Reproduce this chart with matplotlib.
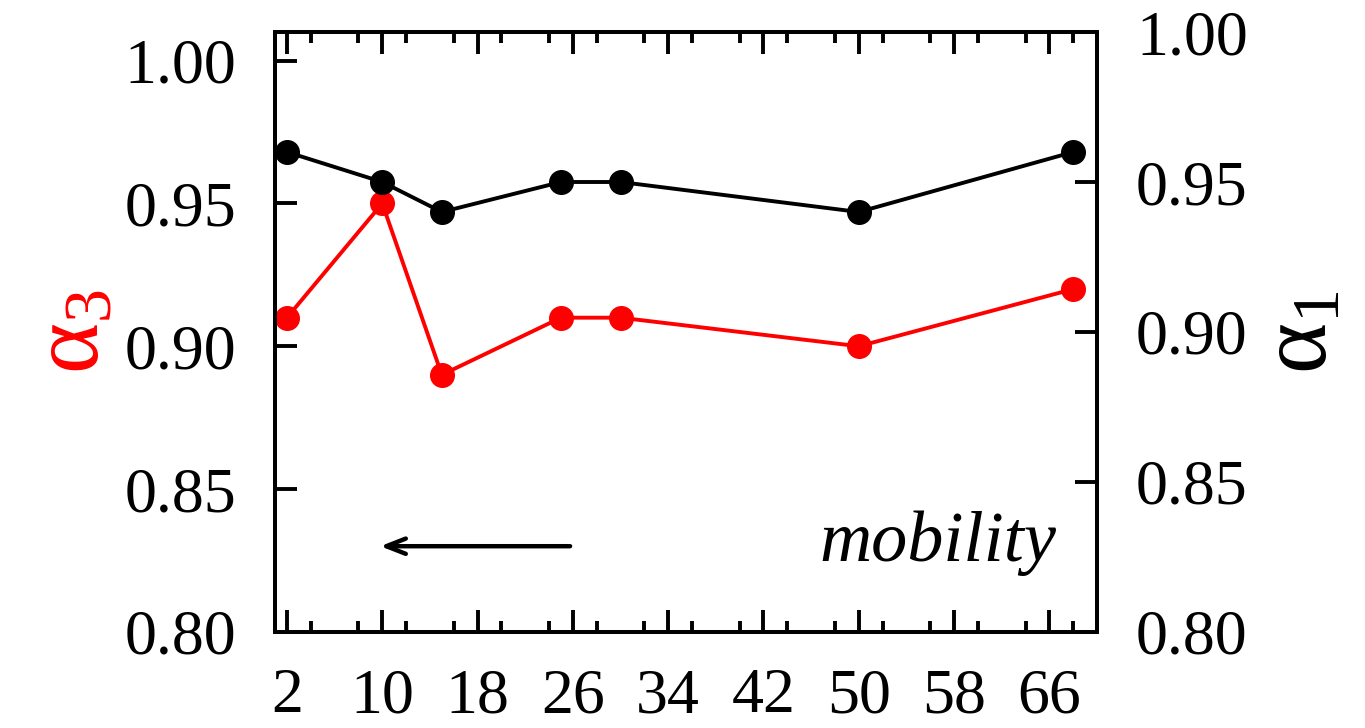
import numpy as np
import matplotlib.pyplot as plt
from matplotlib.ticker import MultipleLocator

plt.rcParams['font.family'] = ['Liberation Serif', 'DejaVu Serif']
plt.rcParams['mathtext.fontset'] = 'custom'
plt.rcParams['mathtext.rm'] = 'Liberation Serif'
plt.rcParams['mathtext.it'] = 'Liberation Serif:italic'

# data
x = [2, 10, 15, 25, 30, 50, 68]
alpha3 = [0.91, 0.95, 0.89, 0.91, 0.91, 0.90, 0.92]   # left axis, red
alpha1 = [0.96, 0.95, 0.94, 0.95, 0.95, 0.94, 0.96]   # right axis, black
xticks = [2, 10, 18, 26, 34, 42, 50, 58, 66]
yticks = [0.80, 0.85, 0.90, 0.95, 1.00]

fig = plt.figure(figsize=(13.65, 7.28), dpi=100)
ax = fig.add_axes([0.2015, 0.132, 0.6022, 0.824])
ax2 = ax.twinx()

ax.plot(x, alpha3, '-o', color='#ff0000', lw=2.8, ms=17, zorder=3)
ax2.plot(x, alpha1, '-o', color='black', lw=2.8, ms=17, zorder=3)

ax.set_xlim(1, 70)
ax.set_ylim(0.80, 1.01)
ax2.set_ylim(0.80, 1.00)

ax.set_xticks(xticks)
ax.xaxis.set_minor_locator(MultipleLocator(4))
ax.set_yticks(yticks)
ax.set_yticklabels(['%.2f' % v for v in yticks])
ax2.set_yticks(yticks)
ax2.set_yticklabels(['%.2f' % v for v in yticks])

ax.tick_params(axis='x', which='major', direction='in', length=16, width=2.8,
               top=True, labelsize=46, pad=26)
ax.tick_params(axis='x', which='minor', direction='in', length=8, width=2.8, top=True)
ax.tick_params(axis='y', which='major', direction='in', length=16, width=2.8,
               right=False, labelsize=46, pad=28)
ax2.tick_params(axis='y', which='major', direction='in', length=16, width=2.8,
                labelsize=46, pad=28)

for a in (ax, ax2):
    for s in a.spines.values():
        s.set_linewidth(2.8)

ax.set_ylabel(r'$\mathrm{\alpha}_{3}$', color='#ff0000', fontsize=70, labelpad=4)
ax2.set_ylabel(r'$\mathrm{\alpha}_{1}$', color='black', fontsize=70, labelpad=8)

# arrow and annotation
ax.annotate('', xy=(9.6, 0.83), xytext=(26, 0.83),
            arrowprops=dict(arrowstyle='->,head_length=1.4,head_width=0.55',
                            lw=3.2, color='black'))
ax.text(66.6, 0.831, 'mobility', style='italic', fontsize=52,
        ha='right', va='center')

fig.savefig('out.png', dpi=100)
